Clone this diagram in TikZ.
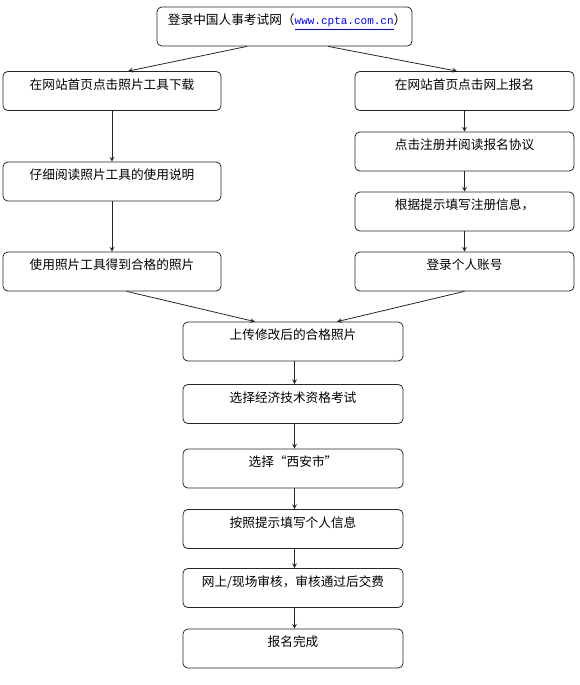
\documentclass[tikz,border=0pt]{standalone}
\usepackage{fontspec}
\newfontfamily\cjk{Noto Sans CJK SC}
\setmonofont{Liberation Mono}
\tikzset{
  stepbox/.style={draw=black!85, line width=0.6pt, rounded corners=3.5pt, minimum width=163.5pt, text height=13.4pt, text depth=15.8pt, inner ysep=0pt, inner xsep=2pt, font=\cjk\fontsize{9.5}{11}\selectfont},
  link/.style={-stealth, black!85, line width=0.6pt}
}
\begin{document}
\begin{tikzpicture}[x=0.75pt,y=-0.75pt]
\useasboundingbox (0,0) rectangle (580,685);

\node [stepbox, minimum width=191.25pt] (login) at (284.5,26.5) {\hspace{4pt}登录中国人事考试网（{\color{blue}\ttfamily\fontsize{8.25}{10}\selectfont\underline{www.cpta.com.cn}}）};

\node [stepbox] (dl) at (112,91) {在网站首页点击照片工具下载};
\node [stepbox] (read) at (112,181.5) {仔细阅读照片工具的使用说明};
\node [stepbox] (photo) at (112,271.5) {使用照片工具得到合格的照片};

\node [stepbox, minimum width=164.25pt] (web) at (464.5,91) {在网站首页点击网上报名};
\node [stepbox, minimum width=164.25pt] (reg) at (464.5,151.5) {点击注册并阅读报名协议};
\node [stepbox, minimum width=164.25pt] (info) at (464.5,211.5) {根据提示填写注册信息，};
\node [stepbox, minimum width=164.25pt] (acct) at (464.5,271.5) {登录个人账号};

\node [stepbox, minimum width=165pt] (upload) at (293,341.5) {上传修改后的合格照片};
\node [stepbox, minimum width=165pt] (exam) at (293,404) {选择经济技术资格考试};
\node [stepbox, minimum width=165pt] (city) at (293,468.5) {选择“西安市”};
\node [stepbox, minimum width=165pt] (fill) at (293,529) {按照提示填写个人信息};
\node [stepbox, minimum width=165pt] (pay) at (293,588) {网上/现场审核，审核通过后交费};
\node [stepbox, minimum width=165pt] (done) at (293,648.5) {报名完成};

\draw [link] ([xshift=-28pt]login.south) -- ([xshift=12pt]dl.north);
\draw [link] ([xshift=32.6pt]login.south) -- ([xshift=-5.6pt]web.north);

\foreach \a/\b in {dl/read, read/photo, web/reg, reg/info, info/acct}
  \draw [link] (\a) -- (\b);

\draw [link] ([xshift=11pt]photo.south) -- ([xshift=-28.5pt]upload.north);
\draw [link] (acct.south) -- ([xshift=33pt]upload.north);

\foreach \a/\b in {upload/exam, exam/city, city/fill, fill/pay, pay/done}
  \draw [link] ([xshift=1.1pt]\a.south) -- ([xshift=1.1pt]\b.north);

\end{tikzpicture}
\end{document}
